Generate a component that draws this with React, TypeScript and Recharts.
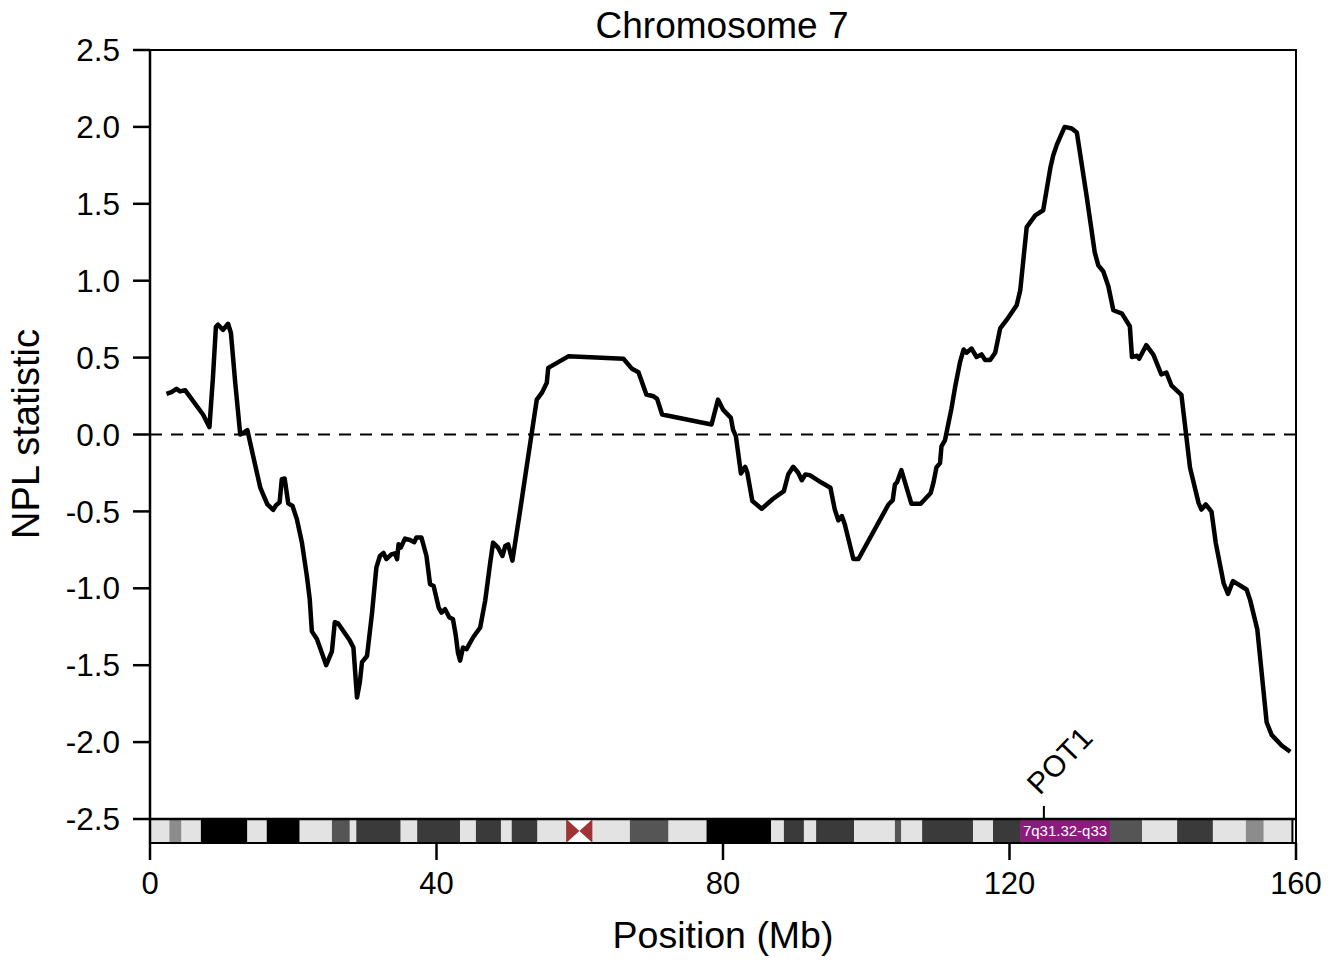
import {
  ComposedChart,
  Line,
  XAxis,
  YAxis,
  ReferenceLine,
  ReferenceArea,
  ReferenceDot,
  Label
} from "recharts";

// NPL curve (Mb, NPL)
const positions = [
  2.3, 3.0, 3.7, 4.2, 4.9, 7.4, 8.3, 8.8, 9.2, 9.5, 10.2, 10.9, 11.3, 11.9, 12.6, 13.0, 13.6,
  14.4, 15.4, 15.7, 16.4, 17.2, 17.6, 18.1, 18.4, 18.8, 19.3, 19.9, 20.5, 21.2, 21.9, 22.3,
  22.6, 23.3, 24.0, 24.6, 25.4, 25.8, 26.3, 27.9, 28.4, 28.9, 29.3, 29.6, 30.3, 31.0, 31.6,
  32.1, 32.6, 33.0, 33.7, 34.2, 34.5, 34.7, 35.0, 35.6, 36.3, 36.9, 37.2, 37.9, 38.6, 39.1,
  39.6, 40.3, 40.7, 41.2, 41.8, 42.3, 42.7, 43.0, 43.3, 43.7, 44.2, 45.1, 46.1, 46.8, 47.5,
  47.9, 48.6, 49.2, 49.6, 50.0, 50.6, 51.2, 51.7, 52.6, 53.3, 54.0, 54.7, 55.4, 55.6, 58.4,
  66.1, 67.3, 68.2, 69.3, 70.3, 70.8, 71.5, 78.4, 79.3, 80.0, 81.1, 81.4, 81.8, 82.5, 83.1,
  83.4, 84.1, 85.4, 87.0, 88.5, 89.1, 89.8, 90.5, 91.0, 91.5, 92.1, 93.8, 95.0, 95.6, 96.1,
  96.6, 97.0, 98.2, 98.9, 103.1, 103.7, 104.0, 104.3, 104.9, 106.3, 107.6, 109.0, 109.4,
  109.8, 110.3, 110.5, 111.0, 111.9, 112.4, 113.1, 113.6, 114.0, 114.7, 115.4, 116.1, 116.6,
  117.3, 118.0, 118.7, 119.6, 121.0, 121.5, 122.4, 123.6, 124.7, 125.7, 126.1, 126.6, 127.1,
  127.7, 128.7, 129.4, 130.8, 131.9, 132.4, 133.1, 133.8, 134.5, 135.7, 136.8, 137.1, 137.8,
  138.1, 139.1, 140.1, 141.2, 141.9, 142.6, 144.0, 145.2, 146.4, 146.8, 147.4, 148.2, 148.8,
  149.9, 150.5, 151.2, 153.1, 153.6, 154.6, 155.9, 156.6, 158.0, 159.2
];
const nplValues = [
  0.264, 0.275, 0.297, 0.28, 0.288, 0.13, 0.048, 0.38, 0.7, 0.714, 0.68, 0.72, 0.66, 0.336, 0.0,
  0.01, 0.028, -0.14, -0.346, -0.38, -0.455, -0.49, -0.46, -0.44, -0.29, -0.286, -0.448, -0.465,
  -0.55, -0.7, -0.92, -1.07, -1.28, -1.33, -1.42, -1.5, -1.41, -1.22, -1.23, -1.34, -1.385,
  -1.71, -1.61, -1.48, -1.44, -1.16, -0.866, -0.79, -0.77, -0.81, -0.78, -0.773, -0.81, -0.714,
  -0.736, -0.677, -0.686, -0.7, -0.67, -0.67, -0.79, -0.974, -0.985, -1.125, -1.158, -1.136,
  -1.19, -1.2, -1.31, -1.42, -1.47, -1.385, -1.396, -1.32, -1.255, -1.08, -0.833, -0.703,
  -0.736, -0.79, -0.725, -0.714, -0.82, -0.638, -0.487, -0.206, 0.011, 0.227, 0.27, 0.336,
  0.433, 0.508, 0.493, 0.427, 0.405, 0.26, 0.249, 0.232, 0.13, 0.065, 0.227, 0.162, 0.108,
  0.032, -0.011, -0.253, -0.21, -0.249, -0.433, -0.483, -0.418, -0.368, -0.26, -0.21, -0.249,
  -0.297, -0.26, -0.264, -0.314, -0.346, -0.487, -0.558, -0.53, -0.584, -0.81, -0.81, -0.455,
  -0.427, -0.325, -0.31, -0.232, -0.45, -0.45, -0.38, -0.31, -0.214, -0.186, -0.077, -0.036,
  0.17, 0.307, 0.472, 0.553, 0.532, 0.559, 0.504, 0.521, 0.485, 0.485, 0.532, 0.69, 0.745,
  0.841, 0.937, 1.348, 1.425, 1.458, 1.732, 1.814, 1.883, 1.937, 2.0, 1.99, 1.964, 1.54, 1.184,
  1.1, 1.06, 0.964, 0.808, 0.786, 0.704, 0.504, 0.512, 0.493, 0.581, 0.518, 0.39, 0.403, 0.32,
  0.258, -0.214, -0.446, -0.488, -0.455, -0.501, -0.706, -0.967, -1.036, -0.953, -1.008,
  -1.077, -1.268, -1.871, -1.953, -2.022, -2.063
];

const xTicks = [0, 40, 80, 120, 160];
const yTicks = [-2.5, -2, -1.5, -1, -0.5, 0, 0.5, 1, 1.5, 2, 2.5];

// chromosome 7 ideogram (Mb)
const bandStarts = [
  0, 2.7, 4.4, 7.1, 13.6, 16.3, 20.9, 25.4, 27.9, 28.8, 35.0, 37.3, 43.3, 45.5, 49.0, 50.5,
  54.1, 58.1, 61.8, 67.0, 72.4, 77.7, 86.7, 88.5, 91.3, 93.0, 98.3, 104.0, 104.9, 107.8, 114.9,
  117.7, 121.5, 134.0, 138.5, 143.4, 148.4, 153.0, 155.5
];
const bandEnds = [
  2.7, 4.4, 7.1, 13.6, 16.3, 20.9, 25.4, 27.9, 28.8, 35.0, 37.3, 43.3, 45.5, 49.0, 50.5, 54.1,
  58.1, 61.8, 67.0, 72.4, 77.7, 86.7, 88.5, 91.3, 93.0, 98.3, 104.0, 104.9, 107.8, 114.9, 117.7,
  121.5, 134.0, 138.5, 143.4, 148.4, 153.0, 155.5, 159.5
];
const bandStains = [
  "gneg", "gpos25", "gneg", "gpos100", "gneg", "gpos100", "gneg", "gpos50", "gneg", "gpos75",
  "gneg", "gpos75", "gneg", "gpos75", "gneg", "gpos75", "gneg", "acen", "gneg", "gpos50",
  "gneg", "gpos100", "gneg", "gpos75", "gneg", "gpos75", "gneg", "gpos50", "gneg", "gpos75",
  "gneg", "gpos75", "gpos75", "gpos50", "gneg", "gpos75", "gneg", "gpos25", "gneg"
];
const regionRange = [121.5, 134.0];
const regionName = "7q31.32-q33";
const geneName = "POT1";
const genePosition = 124.8;

const stainColors: Record<string, string> = {
  gneg: "#e3e3e3",
  gpos25: "#8c8c8c",
  gpos50: "#555555",
  gpos75: "#3a3a3a",
  gpos100: "#000000"
};

const data = positions.map((pos, i) => ({ pos, npl: nplValues[i] }));

const FONT = "'Liberation Sans', Arial, Helvetica, sans-serif";
const Y_MIN = -2.656; // bottom of the ideogram strip

const Centromere = (p: any) => {
  const { x, y, width, height } = p;
  const mx = x + width / 2;
  const my = y + height / 2;
  return (
    <g>
      <rect x={x} y={y} width={width} height={height} fill="#fff" />
      <polygon points={`${x},${y} ${mx},${my} ${x},${y + height}`} fill="#9e3434" />
      <polygon
        points={`${x + width},${y} ${mx},${my} ${x + width},${y + height}`}
        fill="#9e3434"
      />
    </g>
  );
};

const GeneLabel = (p: any) => {
  const tx = p.cx - 4;
  const ty = p.cy - 10;
  return (
    <text
      x={tx}
      y={ty}
      transform={`rotate(-46 ${tx} ${ty})`}
      fontSize={30}
      fontFamily={FONT}
      fill="#000"
    >
      {geneName}
    </text>
  );
};

export default function App() {
  return (
    <div style={{ position: "absolute", left: 0, top: 0, width: 1340, height: 962 }}>
      <div
        style={{
          position: "absolute",
          left: 522,
          top: 7,
          width: 400,
          textAlign: "center",
          fontFamily: FONT,
          fontSize: 37,
          lineHeight: "37px",
          color: "#000"
        }}
      >
        Chromosome 7
      </div>
      <ComposedChart
        width={1340}
        height={962}
        data={data}
        margin={{ top: 50, right: 44, left: 0, bottom: 0 }}
      >
        <XAxis
          dataKey="pos"
          type="number"
          domain={[0, 160]}
          ticks={xTicks}
          height={119}
          tickSize={17}
          tickMargin={12}
          axisLine={false}
          tickLine={{ stroke: "#000", strokeWidth: 2.5 }}
          tick={{ fill: "#000", fontSize: 31, fontFamily: FONT }}
        >
          <Label
            content={() => (
              <text x={723} y={948} textAnchor="middle" fontSize={37.5} fontFamily={FONT} fill="#000">
                Position (Mb)
              </text>
            )}
          />
        </XAxis>
        <YAxis
          type="number"
          domain={[Y_MIN, 2.5]}
          ticks={yTicks}
          width={150}
          tickSize={17}
          tickMargin={13}
          axisLine={{ stroke: "#000", strokeWidth: 2.5 }}
          tickLine={{ stroke: "#000", strokeWidth: 2.5 }}
          tickFormatter={(v: number) => v.toFixed(1)}
          tick={{ fill: "#000", fontSize: 31.5, fontFamily: FONT }}
        >
          <Label
            content={() => (
              <text
                x={39}
                y={434}
                transform="rotate(-90 39 434)"
                textAnchor="middle"
                fontSize={38}
                fontFamily={FONT}
                fill="#000"
              >
                NPL statistic
              </text>
            )}
          />
        </YAxis>

        {bandStarts.map((s, i) =>
          bandStains[i] === "acen" ? (
            <ReferenceArea
              key={`b${i}`}
              x1={s}
              x2={bandEnds[i]}
              y1={Y_MIN}
              y2={-2.5}
              shape={<Centromere />}
            />
          ) : (
            <ReferenceArea
              key={`b${i}`}
              x1={s}
              x2={bandEnds[i]}
              y1={Y_MIN}
              y2={-2.5}
              fill={stainColors[bandStains[i]]}
              fillOpacity={1}
              stroke="none"
            />
          )
        )}
        <ReferenceArea
          x1={regionRange[0]}
          x2={regionRange[1]}
          y1={Y_MIN}
          y2={-2.5}
          fill="#8e1a7e"
          fillOpacity={1}
          stroke="none"
          label={{ value: regionName, position: "center", fill: "#fff", fontSize: 15, fontFamily: FONT }}
        />
        <ReferenceArea
          x1={0}
          x2={bandEnds[bandEnds.length - 1]}
          y1={Y_MIN}
          y2={-2.5}
          fill="none"
          stroke="#000"
          strokeWidth={2}
        />
        <ReferenceArea
          x1={0}
          x2={160}
          y1={Y_MIN}
          y2={2.5}
          fill="none"
          stroke="#000"
          strokeWidth={2}
        />
        <ReferenceLine y={-2.5} stroke="#000" strokeWidth={2.5} />
        <ReferenceLine
          segment={[
            { x: genePosition, y: -2.5 },
            { x: genePosition, y: -2.415 }
          ]}
          stroke="#000"
          strokeWidth={2}
        />
        <ReferenceDot x={genePosition} y={-2.415} r={0} shape={<GeneLabel />} />
        <ReferenceLine y={0} stroke="#000" strokeWidth={2} strokeDasharray="12 9" />

        <Line
          type="linear"
          dataKey="npl"
          stroke="#000"
          strokeWidth={4.5}
          strokeLinejoin="round"
          dot={false}
          isAnimationActive={false}
        />
      </ComposedChart>
    </div>
  );
}
